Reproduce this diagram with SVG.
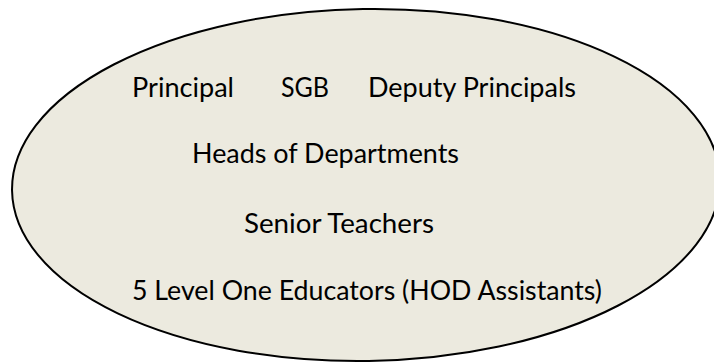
<svg xmlns="http://www.w3.org/2000/svg" width="714" height="363" viewBox="0 0 714 363">
  <style>
    .shape { fill: #ECEADF; stroke: #000000; stroke-width: 2; }
    .lbl { font-family: Lato, "Liberation Sans", sans-serif; font-size: 26px; fill: #000000; }
  </style>
  <rect width="714" height="363" fill="#FFFFFF"/>
  <g id="group-ellipse">
    <ellipse class="shape" cx="366" cy="185" rx="354" ry="176" transform="rotate(-0.9 366 185)"/>
  </g>
  <g id="node-principal"><text class="lbl" x="132" y="97" textLength="102" lengthAdjust="spacingAndGlyphs">Principal</text></g>
  <g id="node-sgb"><text class="lbl" x="281" y="97" textLength="48" lengthAdjust="spacingAndGlyphs">SGB</text></g>
  <g id="node-deputy"><text class="lbl" x="368" y="97" textLength="208" lengthAdjust="spacingAndGlyphs">Deputy Principals</text></g>
  <g id="node-hods"><text class="lbl" x="192" y="163" textLength="267" lengthAdjust="spacingAndGlyphs">Heads of Departments</text></g>
  <g id="node-senior"><text class="lbl" x="244" y="233" textLength="190" lengthAdjust="spacingAndGlyphs">Senior Teachers</text></g>
  <g id="node-educators"><text class="lbl" x="132" y="300" textLength="470" lengthAdjust="spacingAndGlyphs">5 Level One Educators (HOD Assistants)</text></g>
  <g id="connectors"></g>
</svg>
